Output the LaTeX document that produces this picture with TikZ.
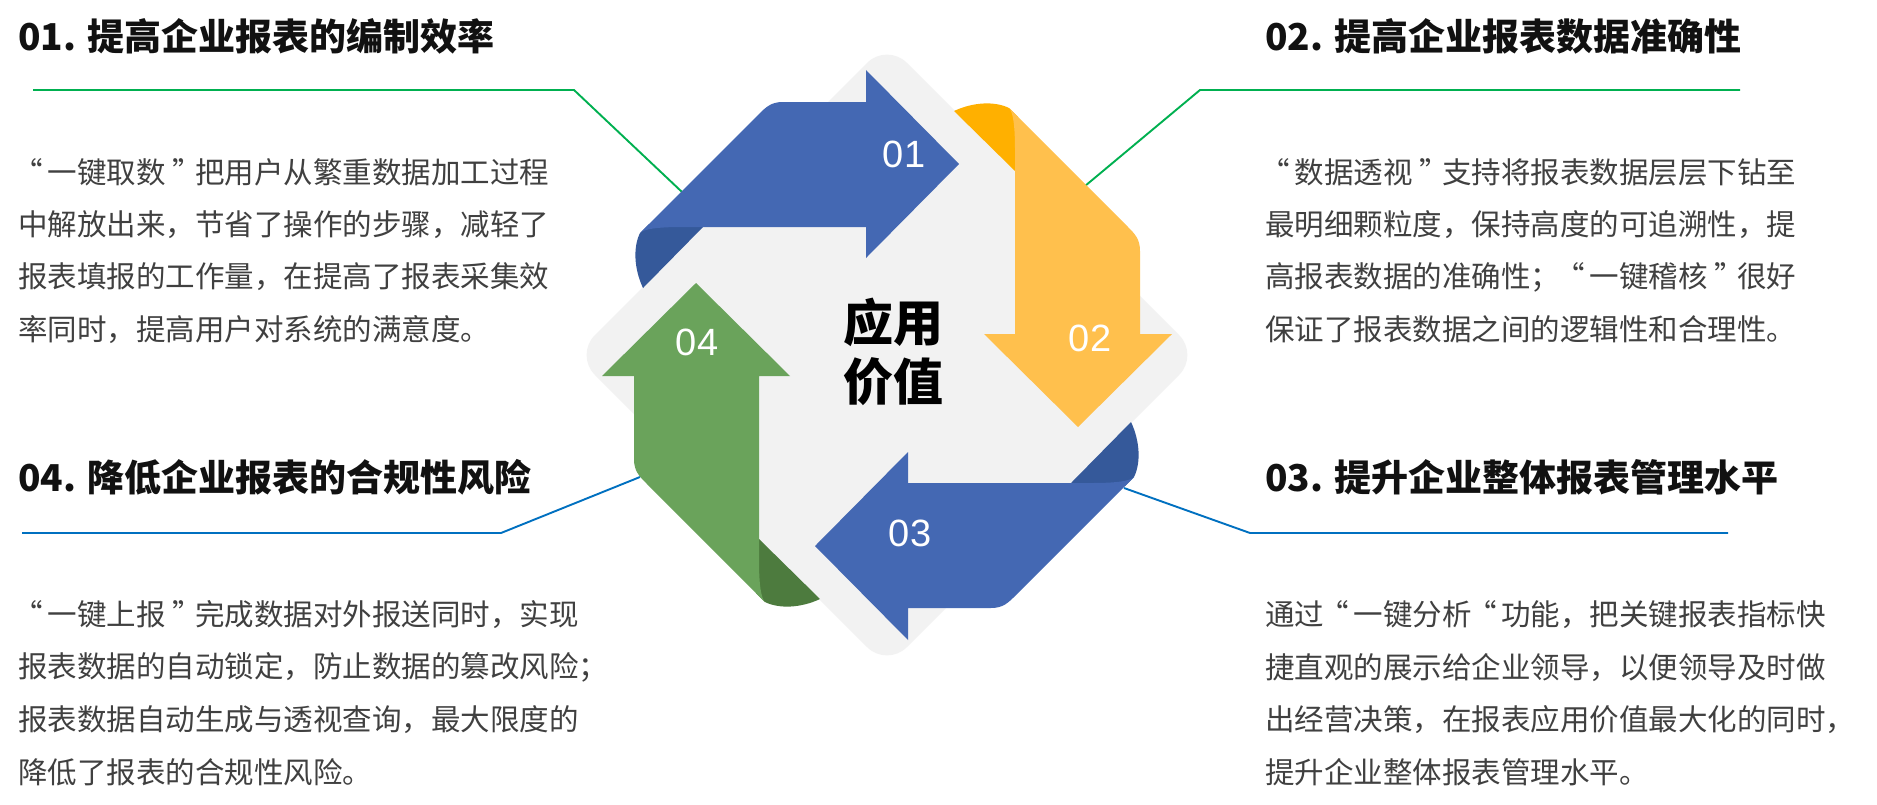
\documentclass[tikz,border=0pt]{standalone}
\usepackage{fontspec}
\setmainfont{Liberation Sans}
\newfontfamily\cjk{Noto Sans CJK SC}
\newfontfamily\numfont{Liberation Sans}
\definecolor{arrblue}{HTML}{4468B3}
\definecolor{arrbluedk}{HTML}{35599A}
\definecolor{arryel}{HTML}{FFC04D}
\definecolor{arryeldk}{HTML}{FFB000}
\definecolor{arrgrn}{HTML}{6AA35B}
\definecolor{arrgrndk}{HTML}{4D7B3E}
\definecolor{diagray}{HTML}{F2F2F2}
\definecolor{leadgreen}{HTML}{00B050}
\definecolor{leadblue}{HTML}{0070C0}
\definecolor{bodytxt}{HTML}{404040}
\definecolor{titletxt}{HTML}{111111}
\newcommand\oq{\makebox[1em][l]{\hspace{-0.15em}“}}
\newcommand\cq{\makebox[1em][l]{\hspace{0.22em}”}}
\newcommand\ribbonarrow[3]{%
  \begin{scope}[shift={(887,-355)}, rotate=#1]
    \fill[#3] (-184,128) -- (-244,67) .. controls (-253,86) and (-254,108) .. (-247,122)
      -- (-238,131) -- (-184,131) -- cycle;
    \fill[#2] (-21,128) -- (-205,128) .. controls (-230,128) and (-243,126) .. (-247,122)
      -- (-129,240) .. controls (-121,248) and (-116,253) .. (-104,253)
      -- (-21,253) -- (-21,285) -- (72,191) -- (-21,97) -- cycle;
  \end{scope}}
\begin{document}
\begin{tikzpicture}[x=1pt,y=1pt,
  titlestyle/.style={anchor=west, inner sep=0pt, text=titletxt,
    font=\cjk\bfseries\fontsize{37}{40}\selectfont},
  bodystyle/.style={anchor=west, inner sep=0pt, text=bodytxt,
    font=\cjk\fontsize{29.5}{32}\selectfont},
  numlabel/.style={inner sep=0pt, text=white, font=\numfont\fontsize{38}{40}\selectfont},
  leadline/.style={line width=1.9pt}]
\useasboundingbox (0,0) rectangle (1877,-804);
\fill[white] (0,0) rectangle (1877,-804);

% leader lines
\coordinate (g1a) at (33,-90); \coordinate (g1b) at (574,-90); \coordinate (g1c) at (682,-192);
\coordinate (g2a) at (1740,-90); \coordinate (g2b) at (1200,-90); \coordinate (g2c) at (1085,-186);
\coordinate (b4a) at (22,-533); \coordinate (b4b) at (501,-533); \coordinate (b4c) at (640,-477);
\coordinate (b3a) at (1728,-533); \coordinate (b3b) at (1250,-533); \coordinate (b3c) at (1124,-488);
\draw[leadline, leadgreen] (g1a) -- (g1b) -- (g1c);
\draw[leadline, leadgreen] (g2a) -- (g2b) -- (g2c);
\draw[leadline, leadblue] (b4a) -- (b4b) -- (b4c);
\draw[leadline, leadblue] (b3a) -- (b3b) -- (b3c);

% gray diamond
\fill[diagray, rounded corners=28pt] (887,-43) -- (1199,-355) -- (887,-667) -- (575,-355) -- cycle;

% ribbon arrows
\ribbonarrow{0}{arrblue}{arrbluedk}
\ribbonarrow{-90}{arryel}{arryeldk}
\ribbonarrow{180}{arrblue}{arrbluedk}
\ribbonarrow{90}{arrgrn}{arrgrndk}

\node[numlabel] (n1) at (904,-154) {01};
\node[numlabel] (n2) at (1090,-338) {02};
\node[numlabel] (n3) at (910,-533) {03};
\node[numlabel] (n4) at (697,-342) {04};

\node[inner sep=0pt, align=center, text=black,
  font=\cjk\bfseries\fontsize{50}{59}\selectfont] (center) at (893,-352) {应用\\价值};

% titles
\node[titlestyle] (t1) at (18,-36) {01. 提高企业报表的编制效率};
\node[titlestyle] (t2) at (1265,-36) {02. 提高企业报表数据准确性};
\node[titlestyle] (t4) at (18,-477) {04. 降低企业报表的合规性风险};
\node[titlestyle] (t3) at (1265,-477) {03. 提升企业整体报表管理水平};

% body 1
\node[bodystyle] (p1a) at (18,-172) {\oq 一键取数\cq 把用户从繁重数据加工过程};
\node[bodystyle] (p1b) at (18,-224.5) {中解放出来，节省了操作的步骤，减轻了};
\node[bodystyle] (p1c) at (18,-277) {报表填报的工作量，在提高了报表采集效};
\node[bodystyle] (p1d) at (18,-329.5) {率同时，提高用户对系统的满意度。};
% body 2
\node[bodystyle] (p2a) at (1265,-172) {\oq 数据透视\cq 支持将报表数据层层下钻至};
\node[bodystyle] (p2b) at (1265,-224.5) {最明细颗粒度，保持高度的可追溯性，提};
\node[bodystyle] (p2c) at (1265,-277) {高报表数据的准确性；\oq 一键稽核\cq 很好};
\node[bodystyle] (p2d) at (1265,-329.5) {保证了报表数据之间的逻辑性和合理性。};
% body 4
\node[bodystyle] (p4a) at (18,-615) {\oq 一键上报\cq 完成数据对外报送同时，实现};
\node[bodystyle] (p4b) at (18,-667.5) {报表数据的自动锁定，防止数据的篡改风险；};
\node[bodystyle] (p4c) at (18,-720) {报表数据自动生成与透视查询，最大限度的};
\node[bodystyle] (p4d) at (18,-772.5) {降低了报表的合规性风险。};
% body 3
\node[bodystyle] (p3a) at (1265,-615) {通过\oq 一键分析\oq 功能，把关键报表指标快};
\node[bodystyle] (p3b) at (1265,-667.5) {捷直观的展示给企业领导，以便领导及时做};
\node[bodystyle] (p3c) at (1265,-720) {出经营决策，在报表应用价值最大化的同时，};
\node[bodystyle] (p3d) at (1265,-772.5) {提升企业整体报表管理水平。};
\end{tikzpicture}
\end{document}
